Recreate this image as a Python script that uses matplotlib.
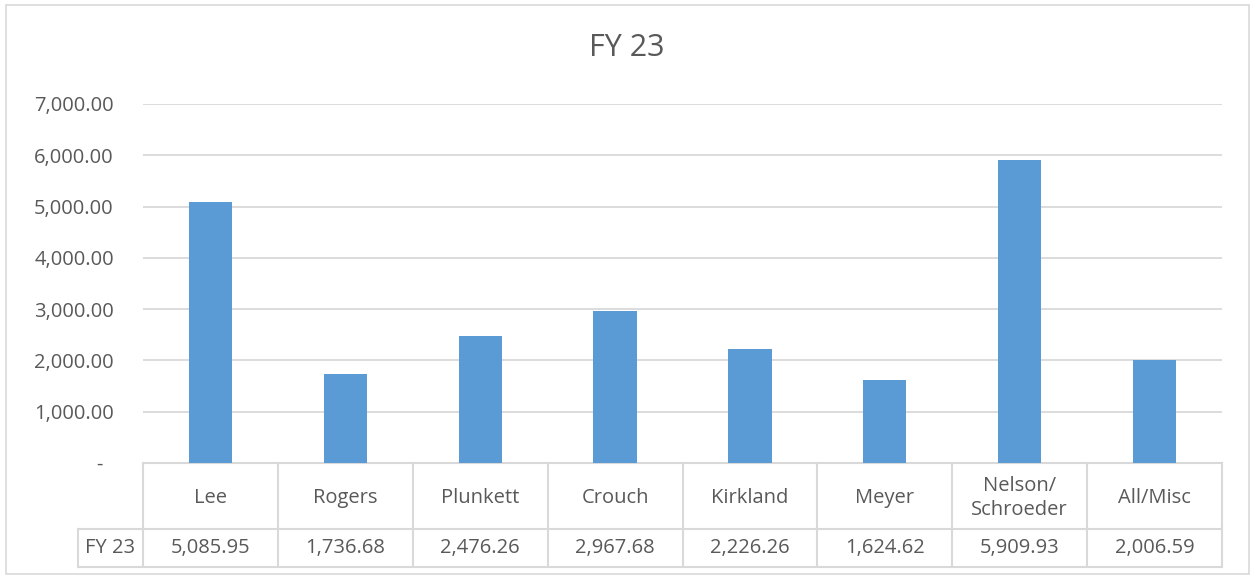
import matplotlib.pyplot as plt
import matplotlib.transforms as mtransforms

# Data
categories = ['Lee', 'Rogers', 'Plunkett', 'Crouch', 'Kirkland', 'Meyer', 'Nelson/\nSchroeder', 'All/Misc']
values = [5085.95, 1736.68, 2476.26, 2967.68, 2226.26, 1624.62, 5909.93, 2006.59]
series_name = 'FY 23'
yticks = [0, 1000, 2000, 3000, 4000, 5000, 6000, 7000]

plt.rcParams['font.family'] = ['Open Sans', 'DejaVu Sans']
text_color = '#595959'
line_color = '#d9d9d9'
fs = 14.5

W, H = 1253, 577
fig = plt.figure(figsize=(W / 100, H / 100), dpi=100)

# chart border
fig.patches.append(plt.Rectangle((6 / W, 1 - 574 / H), 1243 / W, 569 / H, transform=fig.transFigure,
                                 fill=False, edgecolor=line_color, linewidth=1.2))

left, right, top, bottom = 143, 1222, 104, 463
ax = fig.add_axes([left / W, 1 - bottom / H, (right - left) / W, (bottom - top) / H])

x = list(range(len(categories)))
ax.bar(x, values, width=0.32, color='#5B9BD5', zorder=3)
ax.set_xlim(-0.5, len(categories) - 0.5)
ax.set_ylim(0, 7000)
ax.set_yticks(yticks)
ax.set_yticklabels(['-  '] + [f'{v:,.2f}' for v in yticks[1:]], fontsize=fs, color=text_color)
ax.tick_params(axis='y', length=0, pad=21)
ax.set_xticks([])
for s in ax.spines.values():
    s.set_visible(False)
for v in yticks[1:]:
    ax.axhline(v, color=line_color, linewidth=1.3, zorder=1)

fig.text(0.5, 1 - 48 / H, 'FY 23', ha='center', va='center', fontsize=22, color=text_color)

# data table under the axes
trans = mtransforms.blended_transform_factory(ax.transData, ax.transAxes)
ph = bottom - top
def ay(py):
    return (bottom - py) / ph

row1, row2 = 529, 567
x_left_hdr = (78 - left) / (right - left) * len(categories) - 0.5
kw = dict(color=line_color, linewidth=1.5, transform=trans, clip_on=False)
ax.plot([-0.5, len(categories) - 0.5], [0, 0], **kw)
ax.plot([x_left_hdr, len(categories) - 0.5], [ay(row1), ay(row1)], **kw)
ax.plot([x_left_hdr, len(categories) - 0.5], [ay(row2), ay(row2)], **kw)
ax.plot([x_left_hdr, x_left_hdr], [ay(row1), ay(row2)], **kw)
for b in range(len(categories) + 1):
    ax.plot([b - 0.5, b - 0.5], [0, ay(row2)], **kw)

for i, (c, v) in enumerate(zip(categories, values)):
    ax.text(i, ay((bottom + row1) / 2 + 2), c, transform=trans, ha='center', va='center',
            fontsize=fs, color=text_color, linespacing=1.3)
    ax.text(i, ay((row1 + row2) / 2), f'{v:,.2f}', transform=trans, ha='center', va='center',
            fontsize=fs, color=text_color)
ax.text((x_left_hdr - 0.5) / 2, ay((row1 + row2) / 2), series_name, transform=trans,
        ha='center', va='center', fontsize=fs, color=text_color)

fig.savefig('out.png', dpi=100)
